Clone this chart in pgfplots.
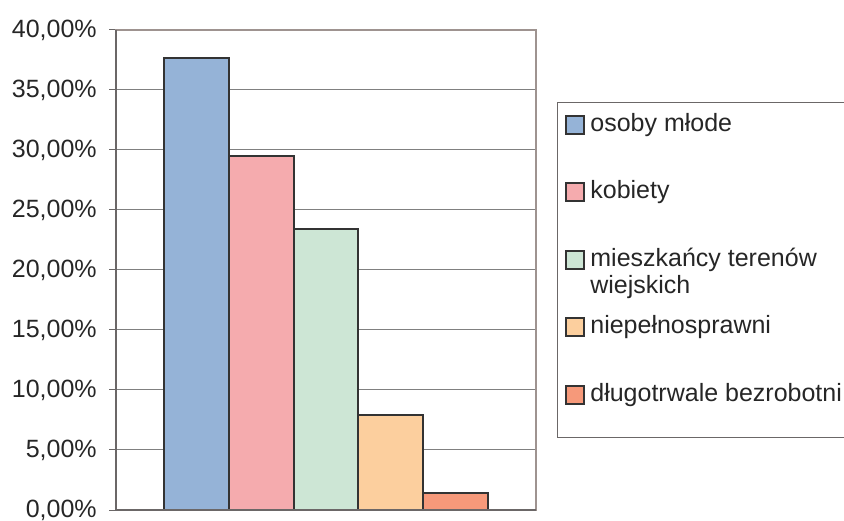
\documentclass[border=0pt]{standalone}
\usepackage{pgfplots}
\pgfplotsset{compat=1.18}
\usepackage{fontspec}
\setmainfont{Liberation Sans}

\definecolor{barblue}{HTML}{95B3D7}
\definecolor{barpink}{HTML}{F5ABAE}
\definecolor{bargreen}{HTML}{CDE6D5}
\definecolor{barpeach}{HTML}{FCCF9E}
\definecolor{barsalmon}{HTML}{F6997A}
\definecolor{edgegray}{HTML}{333333}
\definecolor{gridgray}{HTML}{808080}
\definecolor{framegray}{HTML}{9E9390}
\definecolor{axisgray}{HTML}{6B6767}
\definecolor{textgray}{HTML}{262626}

% square legend swatch with a dark outline
\pgfplotsset{
  swatch/.style={
    legend image code/.code={
      \draw[##1, draw=edgegray, line width=1bp] (0bp,-4.5bp) rectangle (9bp,4.5bp);
    }
  }
}
\newcommand{\entry}[1]{\raisebox{0pt}[10bp][3.5bp]{#1}}

\begin{document}
\fontsize{12.5bp}{15bp}\selectfont
\begin{tikzpicture}
\useasboundingbox (0,0) rectangle (422bp,260.5bp);
\begin{axis}[
  at={(58bp,5.5bp)}, anchor=south west,
  width=210bp, height=240bp, scale only axis,
  clip=false,
  ybar, bar width=1, bar shift=0pt,
  xmin=-0.24, xmax=6.24,
  ymin=0, ymax=40,
  ytick={0,5,...,40},
  xtick=\empty,
  ytick pos=left, tick align=outside, major tick length=3.5bp,
  tick style={axisgray, line width=0.5bp},
  ymajorgrids, grid style={gridgray, line width=0.5bp},
  axis line style={framegray, line width=1bp},
  yticklabel={\pgfmathprintnumber{\tick}\%},
  /pgf/number format/use comma,
  /pgf/number format/fixed,
  /pgf/number format/fixed zerofill,
  /pgf/number format/precision=2,
  /pgf/number format/assume math mode=true,
  yticklabel style={font=\fontsize{12.5bp}{15bp}\selectfont, text=textgray, xshift=-1.8bp},
  legend cell align=left,
  legend style={
    at={(1.069,0.8313)}, anchor=north west,
    draw=none, fill=none,
    inner xsep=0pt, inner ysep=0pt,
    row sep=20.25bp, column sep=2.5bp,
    font=\fontsize{12.5bp}{15bp}\selectfont,
    text=textgray,
    nodes={inner sep=0pt, text depth={}},
  },
]
\addplot[swatch, fill=barblue, draw=edgegray, line width=1bp] coordinates {(1,37.7)};
\addlegendentry{\entry{osoby młode}}
\addplot[swatch, fill=barpink, draw=edgegray, line width=1bp] coordinates {(2,29.5)};
\addlegendentry{\entry{kobiety}}
\addplot[swatch, fill=bargreen, draw=edgegray, line width=1bp] coordinates {(3,23.4)};
\addlegendentry{\entry{\begin{tabular}[t]{@{}l@{}}mieszkańcy terenów\\[-1.5bp]wiejskich\end{tabular}}}
\addplot[swatch, fill=barpeach, draw=edgegray, line width=1bp] coordinates {(4,7.9)};
\addlegendentry{\entry{niepełnosprawni}}
\addplot[swatch, fill=barsalmon, draw=edgegray, line width=1bp] coordinates {(5,1.45)};
\addlegendentry{\entry{długotrwale bezrobotni}}

% darker left and bottom axis lines
\draw[axisgray, line width=1bp] (rel axis cs:0,1) -- (rel axis cs:0,0) -- (rel axis cs:1,0);
% legend frame
\draw[axisgray, line width=0.5bp]
  (axis description cs:1.05,0.848) rectangle (axis description cs:1.76,0.152);
\end{axis}
\end{tikzpicture}
\end{document}
